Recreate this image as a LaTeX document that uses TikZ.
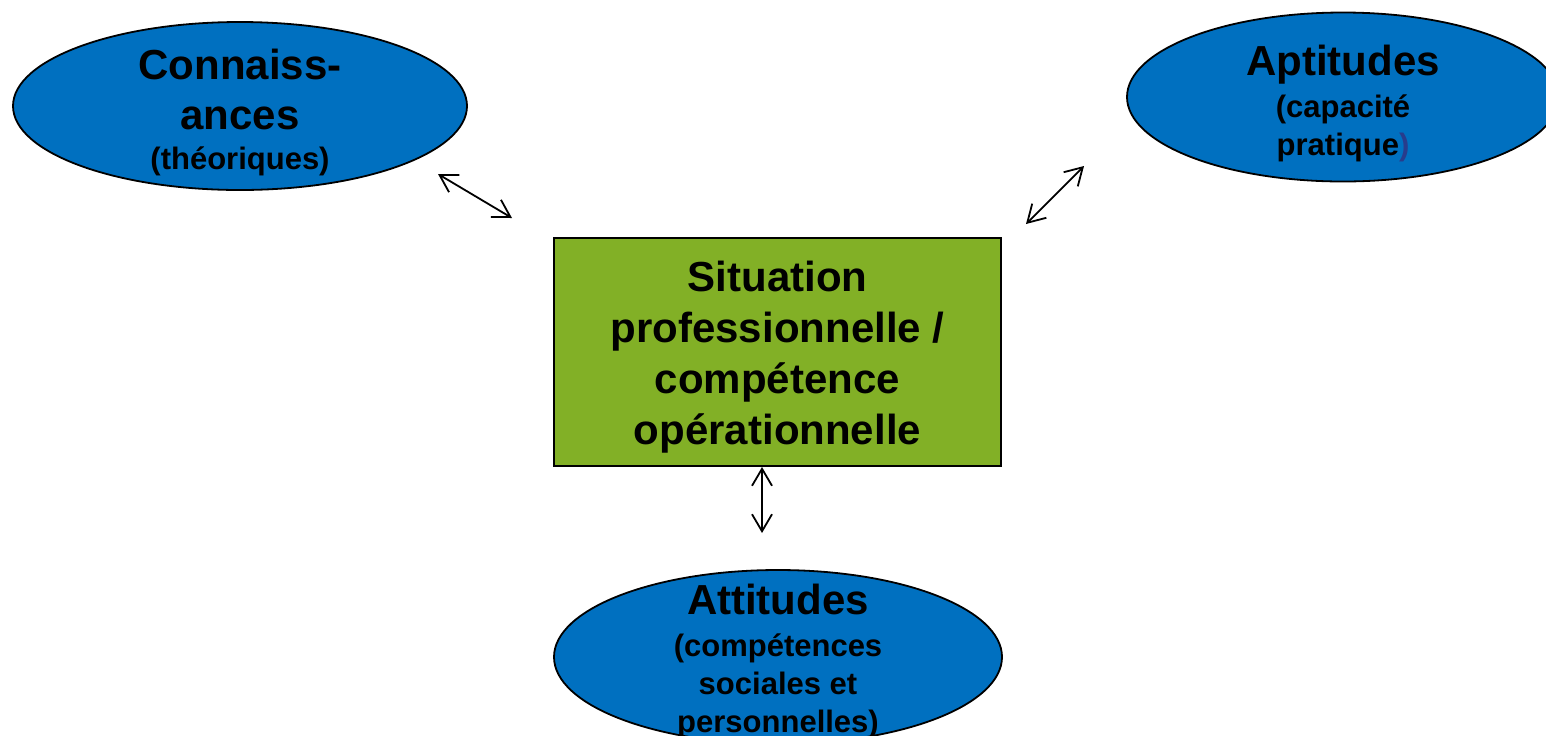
\documentclass[tikz,border=0pt]{standalone}
\usepackage{fontspec}
\setmainfont{Liberation Sans}
\usetikzlibrary{shapes.geometric,arrows.meta}
\definecolor{blueell}{RGB}{0,112,192}
\definecolor{greenbox}{RGB}{130,176,38}
\definecolor{parcol}{RGB}{40,60,140}
\begin{document}
\begin{tikzpicture}[x=0.5pt,y=-0.5pt,
  ell/.style={ellipse, draw=black, line width=0.9pt, fill=blueell, inner sep=0pt},
  box/.style={rectangle, draw=black, line width=0.9pt, fill=greenbox, inner sep=0pt},
  lbl/.style={inner sep=0pt, align=center, font=\bfseries\fontsize{15.5}{19}\selectfont},
  lblbig/.style={inner sep=0pt, align=center, font=\bfseries\fontsize{21}{25.5}\selectfont},
  arr/.style={{Straight Barb[length=8.5pt,width=10pt]}-{Straight Barb[length=8.5pt,width=10pt]}, line width=0.9pt}
]
\useasboundingbox (0,0) rectangle (1546,735);
\fill[white] (0,0) rectangle (1546,735);

% shapes
\node[ell, minimum width=227pt, minimum height=84pt] (conn) at (240,106) {};
\node[ell, minimum width=216pt, minimum height=84.5pt] (apt) at (1343,97) {};
\node[ell, minimum width=224pt, minimum height=87pt] (att) at (778,657) {};
\node[box, minimum width=223.5pt, minimum height=114pt] (sit) at (777.5,352) {};

% labels
\node[lbl] (connT) at (240,112) {{\fontsize{21}{25}\selectfont Connaiss-}\\[6pt]{\fontsize{21}{25}\selectfont ances}\\[1pt](théoriques)};
\node[lbl] (aptT) at (1343,103.5) {{\fontsize{21}{25}\selectfont Aptitudes}\\[2pt](capacité\\pratique{\color{parcol})}};
\node[lbl] (attT) at (778,661) {{\fontsize{21}{25}\selectfont Attitudes}\\[2pt](compétences\\sociales et\\personnelles)};
\node[lblbig] (sitT) at (777.5,357.5) {Situation\\professionnelle /\\compétence\\opérationnelle};

% connectors
\coordinate (c1) at (438,174);
\coordinate (c2) at (512,218);
\coordinate (d1) at (1084,166);
\coordinate (d2) at (1026,224);
\coordinate (e1) at (762,467);
\coordinate (e2) at (762,533);
\draw[arr] (c1) -- (c2);
\draw[arr] (d1) -- (d2);
\draw[arr] (e1) -- (e2);
\end{tikzpicture}
\end{document}
